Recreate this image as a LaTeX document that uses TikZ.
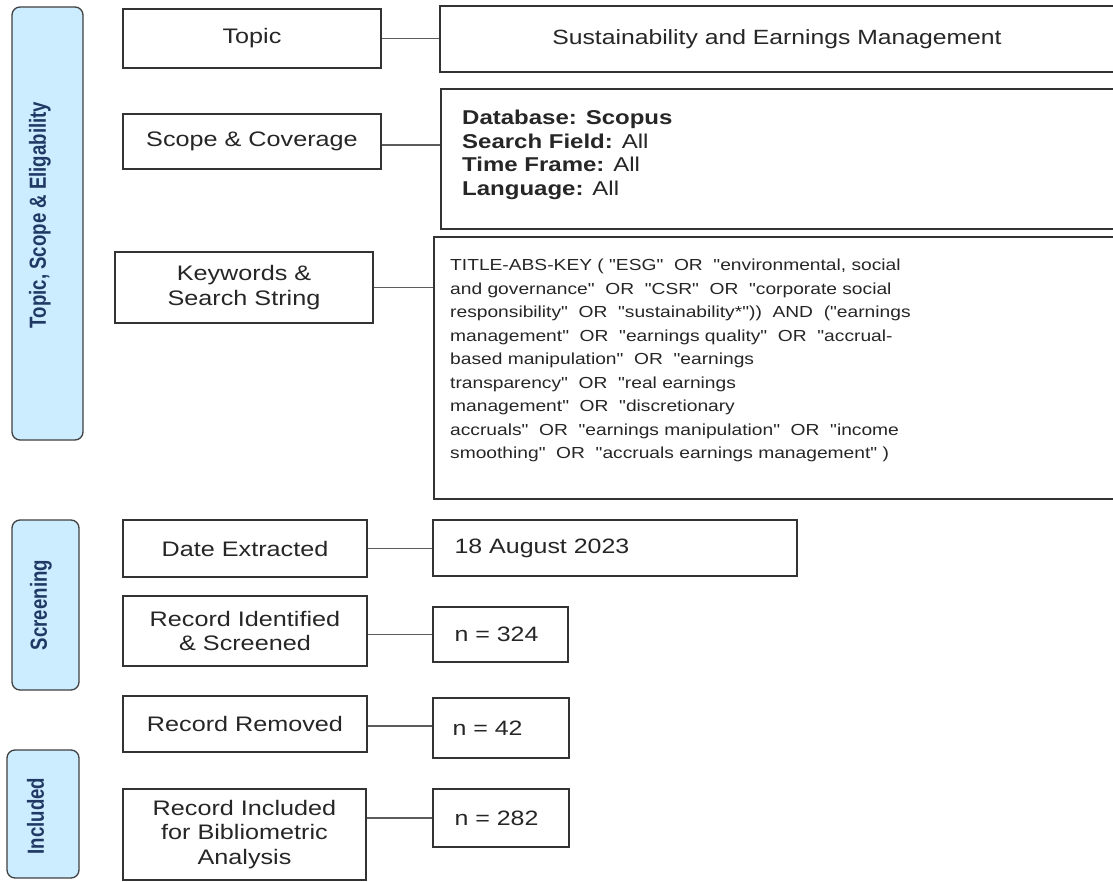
\documentclass[tikz,border=0pt]{standalone}
\usepackage{fontspec}
\setmainfont[FakeStretch=1.2]{Liberation Sans}
\newfontfamily\qfont[FakeStretch=1.2,Ligatures=TeXOff]{Liberation Sans}
\newfontfamily\barfont[FakeStretch=0.8]{Liberation Sans}
\definecolor{barfill}{HTML}{CCECFF}
\definecolor{barline}{HTML}{404040}
\definecolor{bartext}{HTML}{1F3864}
\definecolor{txt}{HTML}{262626}
\definecolor{lne}{HTML}{333333}
\tikzset{
  box/.style={draw=lne, line width=1.3pt, inner sep=0pt, text=txt, align=center,
    font=\fontsize{21}{24.5}\selectfont},
  bar/.style={draw=barline, line width=1.3pt, fill=barfill, rounded corners=8pt, inner sep=0pt},
  barlabel/.style={rotate=90, inner sep=0pt, text=bartext, font=\barfont\bfseries\fontsize{23.3}{26}\selectfont},
  conn/.style={draw=lne!80, line width=1.3pt},
  inner/.style={inner sep=0pt, text=txt, align=left},
  small/.style={font=\fontsize{20.8}{24}\selectfont}
}
\begin{document}
\begin{tikzpicture}[x=1pt,y=-1pt]
\clip (0,0) rectangle (1113,882);
\fill[white] (0,0) rectangle (1113,882);

% side bars
\node[bar, minimum width=71, minimum height=433] (bar1) at (47.5,223.5) {};
\node[barlabel] (bar1t) at (40,215) {Topic, Scope \& Eligability};
\node[bar, minimum width=67, minimum height=170] (bar2) at (45.5,605) {};
\node[barlabel] (bar2t) at (41,605) {Screening};
\node[bar, minimum width=72, minimum height=128] (bar3) at (43,814) {};
\node[barlabel] (bar3t) at (35.5,816) {Included};

% left boxes
\node[box, minimum width=258, minimum height=59] (topic) at (252,38.5) {Topic};
\node[box, minimum width=258, minimum height=55] (scope) at (252,141.5) {Scope \& Coverage};
\node[box, minimum width=258, minimum height=71] (kw) at (244,287.5) {Keywords \&\\Search String};
\node[box, minimum width=244, minimum height=57] (date) at (245,548.5) {Date Extracted};
\node[box, minimum width=244, minimum height=70] (ident) at (245,631) {Record Identified\\\& Screened};
\node[box, minimum width=244, minimum height=56] (rem) at (245,724) {Record Removed};
\node[box, minimum width=243, minimum height=91] (incl) at (244.5,834.5) {Record Included\\for Bibliometric\\Analysis};

% right boxes
\node[box, minimum width=674, minimum height=66, font=\fontsize{20.6}{24}\selectfont] (sust) at (777,39) {Sustainability and Earnings Management};
\node[box, minimum width=700, minimum height=140] (scopeR) at (791,159) {};
\node[inner, anchor=north west, font=\fontsize{20}{23.5}\selectfont] (scopeRt) at (462,110)
  {\textbf{Database: Scopus}\\\textbf{Search Field:} All\\\textbf{Time Frame:} All\\\textbf{Language:} All};
\node[box, minimum width=700, minimum height=262] (kwR) at (784,368) {};
\node[inner, anchor=north west, font=\qfont\fontsize{16}{23.5}\selectfont] (kwRt) at (450,259)
  {TITLE-ABS-KEY ( "ESG"\ \ OR\ \ "environmental, social\\
   and governance"\ \ OR\ \ "CSR"\ \ OR\ \ "corporate social\\
   responsibility"\ \ OR\ \ "sustainability*"))\ \ AND\ \ ("earnings\\
   management"\ \ OR\ \ "earnings quality"\ \ OR\ \ "accrual-\\
   based manipulation"\ \ OR\ \ "earnings\\
   transparency"\ \ OR\ \ "real earnings\\
   management"\ \ OR\ \ "discretionary\\
   accruals"\ \ OR\ \ "earnings manipulation"\ \ OR\ \ "income\\
   smoothing"\ \ OR\ \ "accruals earnings management" )};
\node[box, minimum width=364, minimum height=56] (dateR) at (615,548) {};
\node[inner, small, anchor=west] (dateRt) at ([xshift=22pt]dateR.west) {18 August 2023};
\node[box, minimum width=135, minimum height=55] (n324) at (500.5,634.5) {};
\node[inner, small, anchor=west] (n324t) at ([xshift=22pt]n324.west) {n = 324};
\node[box, minimum width=136, minimum height=60] (n42) at (501,728) {};
\node[inner, small, anchor=west] (n42t) at ([xshift=20pt]n42.west) {n = 42};
\node[box, minimum width=136, minimum height=58] (n282) at (501,818) {};
\node[inner, small, anchor=west] (n282t) at ([xshift=22pt]n282.west) {n = 282};

% connectors
\draw[conn] (topic.east) -- (topic.east -| sust.west);
\draw[conn] ([yshift=-3.5pt]scope.east) -- ([yshift=-3.5pt]scope.east -| scopeR.west);
\draw[conn] (kw.east) -- (kw.east -| kwR.west);
\draw[conn] (date.east) -- (date.east -| dateR.west);
\draw[conn] (n324.west -| ident.east) -- (n324.west);
\draw[conn] ([yshift=-2pt]rem.east) -- ([yshift=-2pt]rem.east -| n42.west);
\draw[conn] (n282.west -| incl.east) -- (n282.west);
\end{tikzpicture}
\end{document}
